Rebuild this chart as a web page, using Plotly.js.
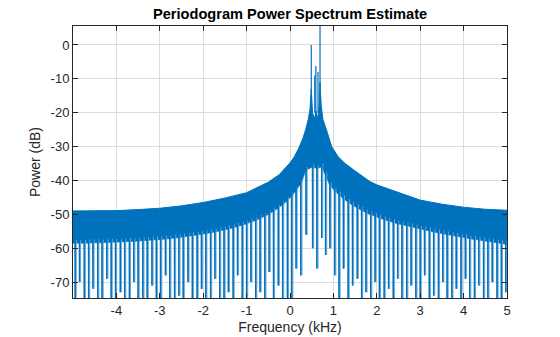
<!DOCTYPE html>
<html><head><meta charset="utf-8">
<script src="https://cdn.plot.ly/plotly-3.0.1.min.js"></script>
<style>html,body{margin:0;padding:0;background:#fff}</style>
</head><body><div id="chart" style="width:560px;height:337px"></div>
<script>
// Upper envelope of the dense spectrum (kHz, dB)
const envFreq = [-5.0,-4.5,-4.0,-3.5,-3.0,-2.5,-2.0,-1.5,-1.0,-0.5,-0.25,0.0,0.1,0.2,0.3,0.36,0.42,0.46,0.49,0.52,0.56,0.6,0.64,0.67,0.69,0.72,0.76,0.84,0.96,1.11,1.27,1.5,1.84,2.0,2.34,2.5,3.0,3.5,4.0,4.5,5.0];
const envTop  = [-49.0,-49.0,-48.9,-48.6,-48.2,-47.5,-46.5,-45.2,-43.6,-40.5,-38.3,-34.8,-33.0,-30.5,-27.5,-25.0,-22.0,-19.0,-13.0,-20.0,-22.0,-19.5,-22.0,-18.0,-11.0,-18.0,-22.0,-25.0,-30.0,-33.0,-35.0,-37.2,-40.3,-41.3,-42.8,-43.6,-45.8,-47.0,-47.9,-48.5,-48.8];
// Band floor at the plot edges
const edgeFreq = [-5.0, 5.0];
const edgeFloor = [-58.5, -58.8];
// Nulls (downward spikes): position, floor of the solid band there, depth
const nullFreq = [
-4.95,-4.85,-4.74,-4.64,-4.54,-4.43,-4.33,-4.22,-4.12,-4.02,
-3.91,-3.81,-3.70,-3.60,-3.50,-3.39,-3.29,-3.18,-3.08,-2.98,
-2.87,-2.77,-2.66,-2.56,-2.46,-2.35,-2.25,-2.14,-2.04,-1.94,
-1.83,-1.73,-1.62,-1.52,-1.42,-1.31,-1.21,-1.10,-1.00,-0.90,
-0.79,-0.69,-0.58,-0.48,-0.38,-0.27,-0.17,-0.06,0.04,0.14,
0.25,0.37,0.52,0.62,0.73,0.82,0.92,1.03,1.13,1.23,
1.34,1.44,1.55,1.65,1.75,1.86,1.96,2.06,2.17,2.27,
2.38,2.48,2.58,2.69,2.79,2.90,3.00,3.10,3.21,3.31,
3.42,3.52,3.62,3.73,3.83,3.94,4.04,4.14,4.25,4.35,
4.46,4.56,4.66,4.77,4.87,4.97];
const nullFloor = [
-58.5,-58.5,-58.5,-58.5,-58.4,-58.4,-58.4,-58.3,-58.3,-58.2,
-58.2,-58.1,-58.0,-58.0,-57.9,-57.8,-57.7,-57.6,-57.5,-57.4,
-57.3,-57.2,-57.0,-56.9,-56.7,-56.5,-56.3,-56.1,-55.9,-55.7,
-55.4,-55.2,-54.9,-54.6,-54.3,-54.0,-53.6,-53.2,-52.8,-52.3,
-51.8,-51.2,-50.6,-49.9,-49.1,-48.2,-47.2,-46.0,-44.6,-43.0,
-41.0,-37.0,-36.0,-36.5,-36.0,-38.5,-41.5,-43.0,-44.3,-45.4,
-46.4,-47.3,-48.1,-48.8,-49.5,-50.1,-50.6,-51.1,-51.6,-52.0,
-52.4,-52.8,-53.1,-53.4,-53.7,-54.0,-54.3,-54.6,-54.9,-55.2,
-55.5,-55.7,-56.0,-56.2,-56.5,-56.7,-56.9,-57.2,-57.4,-57.6,
-57.8,-58.0,-58.2,-58.4,-58.6,-58.8];
const nullDepth = [
-76,-70,-76,-76,-72,-76,-76,-69,-76,-76,
-73,-76,-76,-70,-76,-76,-76,-71,-76,-76,
-68,-76,-76,-74,-76,-70,-76,-76,-72,-76,
-76,-69,-76,-76,-73,-76,-68,-76,-76,-70,
-76,-73,-76,-67,-76,-71,-76,-76,-76,-66,
-68,-56,-60,-66,-57,-62,-60,-68,-76,-66,
-76,-71,-69,-76,-73,-76,-70,-76,-76,-72,
-76,-69,-76,-76,-71,-76,-76,-68,-76,-74,
-76,-70,-76,-76,-72,-76,-69,-76,-76,-71,
-76,-76,-70,-76,-76,-73];
// Main lobes of the tones
const peakFreq = [0.49, 0.57, 0.595, 0.645, 0.692];
const peakBase = [-20, -20, -20, -20, -19];
const peakTop  = [0.0, -9.0, -6.2, -8.0, 6.5];
const xTicks = [-4,-3,-2,-1,0,1,2,3,4,5];
const yTicks = [-70,-60,-50,-40,-30,-20,-10,0];

const blue = '#0072BD';
const lightBlue = '#6ea8d8';
const w = 0.006;      // half-width of a null dip inside the fill (kHz)
const up = 0.026;     // offset of the lighter return stroke (kHz)

const fx = [edgeFreq[0]], fy = [edgeFloor[0]];
const dx = [], dy = [], lx = [], ly = [];
for (let i = 0; i < nullFreq.length; i++) {
  const f = nullFreq[i];
  fx.push(f - w, f, f + w);
  fy.push(nullFloor[i], nullDepth[i], nullFloor[i]);
  dx.push(f, f, null);
  dy.push(nullFloor[i] + 1, nullDepth[i], null);
  lx.push(f + up, f + up, null);
  ly.push(nullDepth[i], nullFloor[i] + 1, null);
}
fx.push(edgeFreq[1]); fy.push(edgeFloor[1]);

const px = [], py = [];
for (let i = 0; i < peakFreq.length; i++) {
  px.push(peakFreq[i], peakFreq[i], null);
  py.push(peakBase[i], peakTop[i], null);
}

const traces = [
  {x: envFreq, y: envTop, type: 'scatter', mode: 'lines', line: {color: blue, width: 1}, hoverinfo: 'skip'},
  {x: fx, y: fy, type: 'scatter', mode: 'lines', fill: 'tonexty', fillcolor: blue, line: {color: blue, width: 0.6}, hoverinfo: 'skip'},
  {x: lx, y: ly, type: 'scatter', mode: 'lines', line: {color: lightBlue, width: 1}, hoverinfo: 'skip'},
  {x: dx, y: dy, type: 'scatter', mode: 'lines', line: {color: blue, width: 1.4}, hoverinfo: 'skip'},
  {x: px, y: py, type: 'scatter', mode: 'lines', line: {color: blue, width: 1.2}, hoverinfo: 'skip'}
];

const axisCommon = {
  ticks: 'inside', ticklen: 5, tickwidth: 1, tickcolor: '#262626',
  showline: true, mirror: 'ticks', linecolor: '#262626', linewidth: 1,
  showgrid: true, gridcolor: '#dcdcdc', gridwidth: 1, zeroline: false,
  tickfont: {family: 'Liberation Sans, Arial, sans-serif', size: 13, color: '#262626'}
};

const layout = {
  width: 560, height: 337,
  margin: {l: 73, r: 53, t: 26, b: 39},
  paper_bgcolor: '#fff', plot_bgcolor: '#fff',
  showlegend: false,
  title: {text: '<b>Periodogram Power Spectrum Estimate</b>', font: {family: 'Liberation Sans, Arial, sans-serif', size: 14.6, color: '#000'}, x: 0.518, xanchor: 'center', y: 0.958, yanchor: 'middle'},
  xaxis: Object.assign({}, axisCommon, {range: [-5, 5], tickvals: xTicks, ticktext: xTicks.map(String),
    title: {text: 'Frequency (kHz)', font: {family: 'Liberation Sans, Arial, sans-serif', size: 14, color: '#262626'}, standoff: 5}}),
  yaxis: Object.assign({}, axisCommon, {range: [-74.7, 5.6], tickvals: yTicks, ticktext: yTicks.map(String),
    title: {text: 'Power (dB)', font: {family: 'Liberation Sans, Arial, sans-serif', size: 14, color: '#262626'}, standoff: 6}})
};

Plotly.newPlot('chart', traces, layout, {staticPlot: true, displayModeBar: false});
</script></body></html>
